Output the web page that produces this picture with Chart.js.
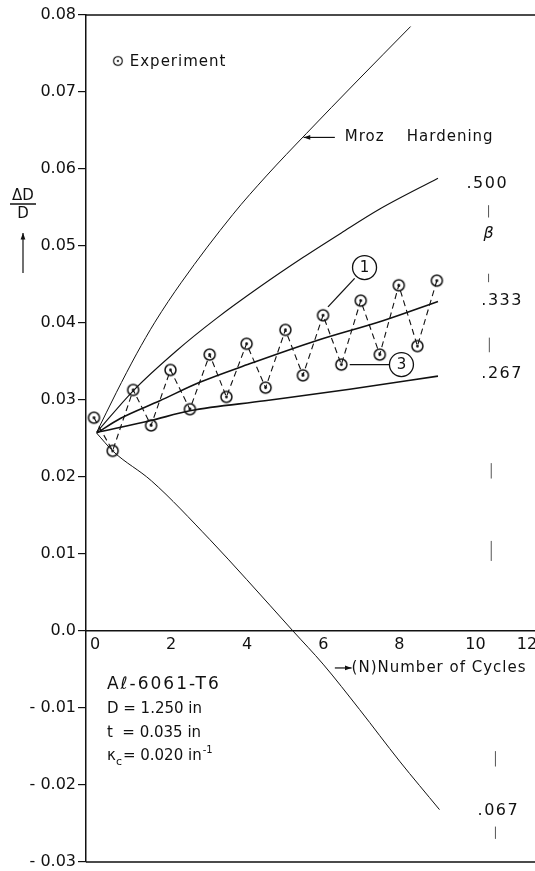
<!DOCTYPE html>
<html>
<head>
<meta charset="utf-8">
<script src="https://cdn.jsdelivr.net/npm/chart.js@4.4.0/dist/chart.umd.min.js"></script>
<style>
  html, body { margin: 0; padding: 0; background: #fff; overflow: hidden; }
  #wrap { width: 535px; height: 871px; position: relative; overflow: hidden; }
  #chart { display: block; }
</style>
</head>
<body>
<div id="wrap"><canvas id="chart"></canvas></div>
<script>
// experiment, every half cycle
const expN   = [0.21, 0.70, 1.24, 1.71, 2.22, 2.73, 3.25, 3.69, 4.22, 4.72, 5.24, 5.70, 6.23, 6.71, 7.22, 7.72, 8.22, 8.71, 9.22];
const expVal = [0.0277, 0.0234, 0.0313, 0.0267, 0.0339, 0.0288, 0.0359, 0.0304, 0.0373, 0.0316, 0.0391, 0.0332, 0.0410, 0.0346, 0.0429, 0.0359, 0.0449, 0.0370, 0.0455];

// predicted curves
const mrozN   = [0.28, 0.80, 1.33, 1.81, 2.51, 3.86, 4.74, 5.79, 7.10, 8.53];
const mrozVal = [0.0258, 0.0310, 0.0360, 0.0401, 0.0453, 0.0541, 0.0591, 0.0646, 0.0713, 0.0785];

const b500N   = [0.28, 1.24, 2.38, 3.43, 4.57, 5.70, 6.71, 7.72, 9.25];
const b500Val = [0.0258, 0.0312, 0.0364, 0.0406, 0.0447, 0.0485, 0.0517, 0.0548, 0.0588];

const b333N   = [0.28, 0.90, 1.94, 2.99, 4.30, 6.05, 7.80, 9.25];
const b333Val = [0.0257, 0.0276, 0.0299, 0.0323, 0.0347, 0.0377, 0.0403, 0.0428];

const b267N   = [0.30, 1.68, 2.73, 4.70, 6.93, 9.25];
const b267Val = [0.0258, 0.0273, 0.0286, 0.0299, 0.0314, 0.0331];

const b067N   = [0.28, 0.72, 1.72, 3.25, 4.22, 5.44, 6.23, 7.19, 8.24, 9.29];
const b067Val = [0.0257, 0.0233, 0.0195, 0.0119, 0.0067, 0.0, -0.0043, -0.0102, -0.0169, -0.0232];

// axis ticks
const xTickValues = [0, 2, 4, 6, 8, 10, 11.35];
const xTickLabels = ['0', '2', '4', '6', '8', '10', '12'];
const yTickValues = [0.08, 0.07, 0.06, 0.05, 0.04, 0.03, 0.02, 0.01, 0, -0.01, -0.02, -0.03];
const yTickLabels = ['0.08', '0.07', '0.06', '0.05', '0.04', '0.03', '0.02', '0.01', '0.0', '- 0.01', '- 0.02', '- 0.03'];

const ink = '#111';
const face = '"DejaVu Sans", sans-serif';

function pts(xs, ys) {
    return xs.map((v, i) => ({ x: v, y: ys[i] }));
}

function makeMarker() {
    const c = document.createElement('canvas');
    c.width = 15; c.height = 15;
    const g = c.getContext('2d');
    g.strokeStyle = ink; g.lineWidth = 1.5;
    g.beginPath(); g.arc(7.5, 7.5, 5.5, 0, Math.PI * 2); g.stroke();
    g.fillStyle = ink;
    g.beginPath(); g.arc(7.5, 7.5, 1.4, 0, Math.PI * 2); g.fill();
    return c;
}
const marker = makeMarker();

function curve(label, xs, ys, width) {
    return {
        label: label,
        data: pts(xs, ys),
        showLine: true,
        borderColor: ink,
        borderWidth: width,
        pointRadius: 0,
        cubicInterpolationMode: 'monotone',
        fill: false
    };
}

function arrow(ctx, x1, y1, x2, y2) {
    // line from (x1,y1) with head at (x2,y2)
    const a = Math.atan2(y2 - y1, x2 - x1);
    ctx.beginPath(); ctx.moveTo(x1, y1); ctx.lineTo(x2, y2); ctx.stroke();
    ctx.beginPath();
    ctx.moveTo(x2, y2);
    ctx.lineTo(x2 - 7 * Math.cos(a - 0.35), y2 - 7 * Math.sin(a - 0.35));
    ctx.lineTo(x2 - 7 * Math.cos(a + 0.35), y2 - 7 * Math.sin(a + 0.35));
    ctx.closePath(); ctx.fill();
}

const notes = {
    id: 'notes',
    afterDraw(chart) {
        const ctx = chart.ctx;
        const area = chart.chartArea;
        const px = v => chart.scales.x.getPixelForValue(v);
        const py = v => chart.scales.y.getPixelForValue(v);
        ctx.save();
        ctx.strokeStyle = ink; ctx.fillStyle = ink;

        // top and bottom frame lines
        ctx.lineWidth = 1.5;
        ctx.beginPath();
        ctx.moveTo(area.left, area.top); ctx.lineTo(area.right, area.top);
        ctx.moveTo(area.left, area.bottom); ctx.lineTo(area.right, area.bottom);
        ctx.stroke();

        ctx.textBaseline = 'middle';
        ctx.textAlign = 'left';

        // legend
        ctx.drawImage(marker, px(0.76) - 3, py(0.0739) - 7, 12, 12);
        ctx.font = '15px ' + face;
        ctx.letterSpacing = '1px';
        ctx.fillText('Experiment', px(1.15), py(0.0739));

        // Mroz hardening
        ctx.lineWidth = 1.2;
        arrow(ctx, px(6.54), py(0.0641), px(5.72), py(0.0641));
        ctx.fillText('Mroz', px(6.80), py(0.0641));
        ctx.fillText('Hardening', px(8.43), py(0.0641));

        // beta labels on the right
        ctx.font = '16px ' + face;
        ctx.letterSpacing = '1.5px';
        ctx.fillText('.500', px(10.0), py(0.0581));
        ctx.fillText('.333', px(10.39), py(0.0429));
        ctx.fillText('.267', px(10.39), py(0.0334));
        ctx.fillText('.067', px(10.29), py(-0.0234));
        ctx.letterSpacing = '0px';
        ctx.font = 'italic 16px ' + face;
        ctx.textAlign = 'center';
        ctx.fillText('β', px(10.58), py(0.0516));

        const marks = [
            [10.58, 0.0553, 0.0537], [10.58, 0.0464, 0.0453], [10.60, 0.0381, 0.0362],
            [10.65, 0.0218, 0.0198], [10.65, 0.0117, 0.0091],
            [10.76, -0.0156, -0.0176], [10.76, -0.0254, -0.0270]
        ];
        ctx.lineWidth = 1;
        ctx.strokeStyle = '#555';
        marks.forEach(m => {
            ctx.beginPath(); ctx.moveTo(px(m[0]), py(m[1])); ctx.lineTo(px(m[0]), py(m[2])); ctx.stroke();
        });
        ctx.strokeStyle = ink;

        // circled curve numbers
        ctx.lineWidth = 1.3;
        ctx.font = '15px ' + face;
        ctx.beginPath(); ctx.arc(px(7.32), py(0.0472), 12, 0, Math.PI * 2); ctx.stroke();
        ctx.fillText('1', px(7.32), py(0.0472) + 1);
        ctx.beginPath(); ctx.moveTo(px(7.06), py(0.0458)); ctx.lineTo(px(6.36), py(0.0421)); ctx.stroke();
        ctx.beginPath(); ctx.arc(px(8.29), py(0.0346), 12, 0, Math.PI * 2); ctx.stroke();
        ctx.fillText('3', px(8.29), py(0.0346) + 1);
        ctx.beginPath(); ctx.moveTo(px(6.93), py(0.0346)); ctx.lineTo(px(7.97), py(0.0346)); ctx.stroke();

        // x axis title
        ctx.textAlign = 'left';
        ctx.lineWidth = 1.2;
        arrow(ctx, px(6.54), py(-0.0048), px(6.98), py(-0.0048));
        ctx.letterSpacing = '1px';
        ctx.fillText('(N)Number of Cycles', px(6.98), py(-0.0048));

        // specimen block
        ctx.font = '17px ' + face;
        ctx.letterSpacing = '2px';
        ctx.fillText('Aℓ-6061-T6', px(0.55), py(-0.0069));
        ctx.font = '15px ' + face;
        ctx.letterSpacing = '0px';
        ctx.fillText('D = 1.250 in', px(0.55), py(-0.0101));
        ctx.fillText('t  = 0.035 in', px(0.55), py(-0.0133));
        let sx = px(0.55), sy = py(-0.0163);
        ctx.fillText('κ', sx, sy);
        ctx.font = '11px ' + face;
        ctx.fillText('c', sx + 9, sy + 6);
        ctx.font = '15px ' + face;
        ctx.fillText('= 0.020 in', sx + 16, sy);
        const w = ctx.measureText('= 0.020 in').width;
        ctx.font = '10px ' + face;
        ctx.fillText('-1', sx + 17 + w, sy - 6);

        // y axis title
        ctx.font = '15px ' + face;
        ctx.textAlign = 'center';
        ctx.fillText('ΔD', 23, 196);
        ctx.fillText('D', 23, 214);
        ctx.lineWidth = 1.5;
        ctx.beginPath(); ctx.moveTo(10, 204); ctx.lineTo(36, 204); ctx.stroke();
        ctx.lineWidth = 1.2;
        arrow(ctx, 23, 273, 23, 233);

        ctx.restore();
    }
};

document.addEventListener('DOMContentLoaded', function() {
    const chartCanvas = document.querySelector('#chart');
    new Chart(chartCanvas.getContext('2d'), {
        type: 'scatter',
        data: {
            datasets: [
                curve('Mroz Hardening', mrozN, mrozVal, 1),
                curve('β = .500', b500N, b500Val, 1.1),
                curve('β = .333', b333N, b333Val, 1.6),
                curve('β = .267', b267N, b267Val, 1.6),
                curve('β = .067', b067N, b067Val, 1),
                {
                    label: 'Experiment',
                    data: pts(expN, expVal),
                    showLine: true,
                    borderColor: ink,
                    borderWidth: 1.1,
                    borderDash: [6, 4],
                    pointStyle: marker,
                    pointRadius: 6,
                    fill: false
                }
            ]
        },
        options: {
            responsive: true,
            maintainAspectRatio: false,
            animation: false,
            layout: { autoPadding: false, padding: { top: 15, bottom: 9, left: 0, right: 0 } },
            plugins: {
                legend: { display: false },
                tooltip: { enabled: false }
            },
            scales: {
                x: {
                    type: 'linear',
                    min: 0,
                    max: 11.8,
                    position: { y: 0 },
                    afterBuildTicks: scale => { scale.ticks = xTickValues.map(v => ({ value: v })); },
                    afterFit: scale => { scale.paddingLeft = 0; scale.paddingRight = 0; },
                    ticks: {
                        callback: (v, i) => xTickLabels[i],
                        font: { family: face, size: 16 },
                        color: ink,
                        labelOffset: 9,
                        padding: 4,
                        autoSkip: false,
                        maxRotation: 0
                    },
                    grid: { drawOnChartArea: false, drawTicks: false },
                    border: { color: ink, width: 1.5 }
                },
                y: {
                    type: 'linear',
                    min: -0.03,
                    max: 0.08,
                    position: 'left',
                    afterBuildTicks: scale => { scale.ticks = yTickValues.map(v => ({ value: v })); },
                    afterFit: scale => { scale.width = 86; scale.paddingTop = 0; scale.paddingBottom = 0; },
                    ticks: {
                        callback: (v, i) => yTickLabels[i],
                        font: { family: face, size: 16 },
                        color: ink,
                        padding: 2,
                        autoSkip: false
                    },
                    grid: { drawOnChartArea: false, drawTicks: true, tickLength: 8, color: ink, lineWidth: 1.2 },
                    border: { color: ink, width: 1.5 }
                }
            }
        },
        plugins: [notes]
    });
});
</script>
</body>
</html>
